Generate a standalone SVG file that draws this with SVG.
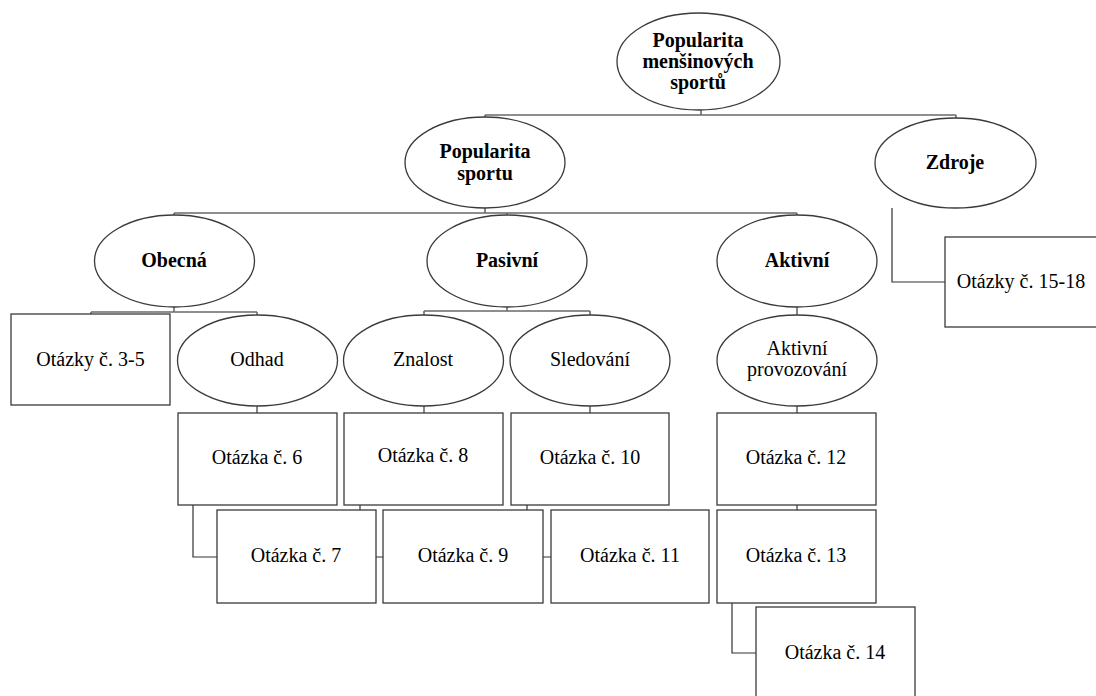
<svg xmlns="http://www.w3.org/2000/svg" width="1096" height="696" viewBox="0 0 1096 696">
<style>
.n{fill:#fff;stroke:#3a3a3a;stroke-width:1.3}
.c{fill:none;stroke:#6a6a6a;stroke-width:1.6}
.e{fill:none;stroke:#333;stroke-width:1.2}
text{font-family:"Liberation Serif","Times New Roman",serif;font-size:20px;fill:#000;text-anchor:middle}
.b{font-weight:bold}
</style>
<rect width="1096" height="696" fill="#fff"/>
<g id="connectors">
<path class="c" d="M701 110V115M485 115H956M485 115V117M956 115V118"/>
<path class="c" d="M485 208V213M174 213H797M174 213V215M507 213V215M797 213V215"/>
<path class="c" d="M174 307V312M91 312H257M91 312V314M257 312V315"/>
<path class="c" d="M507 307V311M424 311H590M424 311V315M590 311V315"/>
<path class="c" d="M797 307V315"/>
<path class="c" d="M257 406V413M424 406V413M590 406V413M797 406V413M797 505V510"/>
<path class="e" d="M193 505V557H217M360 505V557H383M527 505V557H551M732 603V653H756M892 208V282H945"/>
</g>
<g id="root"><ellipse class="n" cx="698.5" cy="61.5" rx="81.5" ry="48.5"/><text class="b" x="698" y="47">Popularita</text><text class="b" x="698" y="68">menšinových</text><text class="b" x="698" y="89">sportů</text></g>
<g id="popularita-sportu"><ellipse class="n" cx="485" cy="162.5" rx="80" ry="45.5"/><text class="b" x="485" y="158">Popularita</text><text class="b" x="485" y="180">sportu</text></g>
<g id="zdroje"><ellipse class="n" cx="955.5" cy="163" rx="80.5" ry="45"/><text class="b" x="955" y="169">Zdroje</text></g>
<g id="obecna"><ellipse class="n" cx="174.5" cy="261" rx="80" ry="46"/><text class="b" x="174" y="267">Obecná</text></g>
<g id="pasivni"><ellipse class="n" cx="507" cy="261" rx="80" ry="46"/><text class="b" x="507" y="267">Pasivní</text></g>
<g id="aktivni"><ellipse class="n" cx="797" cy="261" rx="80" ry="46"/><text class="b" x="797" y="267">Aktivní</text></g>
<g id="otazky-3-5"><rect class="n" x="11" y="314" width="159" height="91"/><text x="90.5" y="366">Otázky č. 3-5</text></g>
<g id="odhad"><ellipse class="n" cx="257.5" cy="360.5" rx="80" ry="45.5"/><text x="257" y="366">Odhad</text></g>
<g id="znalost"><ellipse class="n" cx="423.5" cy="360.5" rx="80" ry="45.5"/><text x="423" y="366">Znalost</text></g>
<g id="sledovani"><ellipse class="n" cx="590" cy="360.5" rx="80" ry="45.5"/><text x="590" y="366">Sledování</text></g>
<g id="aktivni-provozovani"><ellipse class="n" cx="797" cy="360.5" rx="80" ry="45.5"/><text x="797" y="355">Aktivní</text><text x="797" y="376">provozování</text></g>
<g id="otazka-6"><rect class="n" x="178" y="413" width="159" height="92"/><text x="257" y="464">Otázka č. 6</text></g>
<g id="otazka-8"><rect class="n" x="344" y="413" width="159" height="92"/><text x="423" y="462">Otázka č. 8</text></g>
<g id="otazka-10"><rect class="n" x="511" y="413" width="158" height="92"/><text x="590" y="464">Otázka č. 10</text></g>
<g id="otazka-12"><rect class="n" x="717" y="413" width="159" height="92"/><text x="796" y="464">Otázka č. 12</text></g>
<g id="otazka-7"><rect class="n" x="217" y="510" width="159" height="93"/><text x="296" y="562">Otázka č. 7</text></g>
<g id="otazka-9"><rect class="n" x="383" y="510" width="160" height="93"/><text x="463" y="562">Otázka č. 9</text></g>
<g id="otazka-11"><rect class="n" x="551" y="510" width="158" height="93"/><text x="630" y="562">Otázka č. 11</text></g>
<g id="otazka-13"><rect class="n" x="717" y="510" width="159" height="93"/><text x="796" y="562">Otázka č. 13</text></g>
<g id="otazka-14"><rect class="n" x="756" y="607" width="159" height="92"/><text x="835" y="659">Otázka č. 14</text></g>
<g id="otazky-15-18"><rect class="n" x="945" y="237" width="159" height="90"/><text x="1021" y="288">Otázky č. 15-18</text></g>
</svg>
